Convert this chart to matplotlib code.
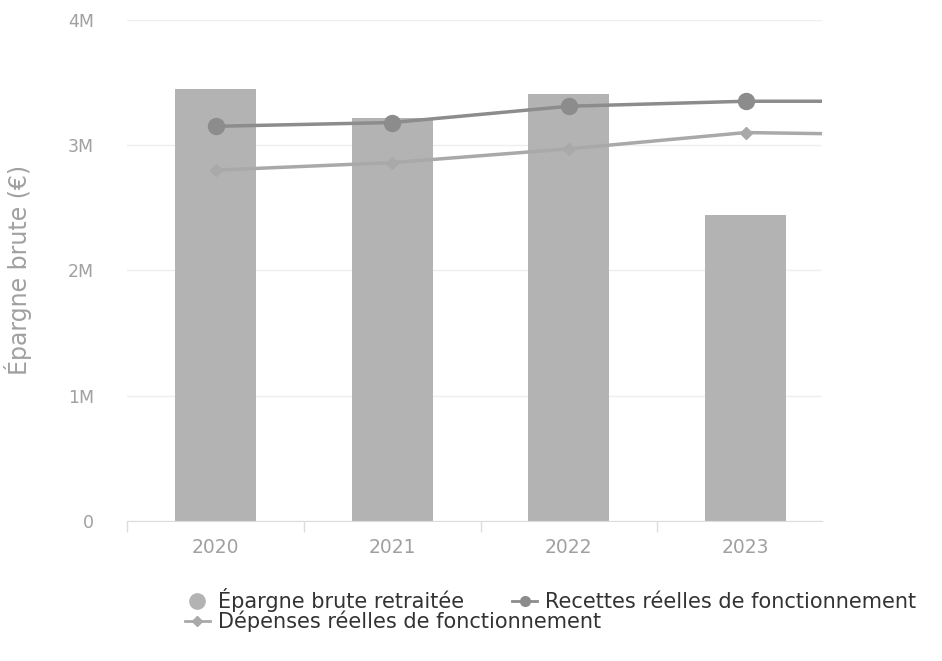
import matplotlib.pyplot as plt
from matplotlib.lines import Line2D
import numpy as np

# values
years = ['2020', '2021', '2022', '2023']
epargne = [3.45e6, 3.22e6, 3.41e6, 2.44e6]
recettes = [3.15e6, 3.18e6, 3.31e6, 3.35e6, 3.35e6]   # last point lies past the plot edge
depenses = [2.80e6, 2.86e6, 2.97e6, 3.10e6, 3.08e6]
y_ticks = [0, 1e6, 2e6, 3e6, 4e6]
y_tick_labels = ['0', '1M', '2M', '3M', '4M']

bar_col = '#b3b3b3'
rec_col = '#8c8c8c'
dep_col = '#a9a9a9'
txt_col = '#a0a0a0'

fig = plt.figure(figsize=(9.42, 6.61), dpi=100)
ax = fig.add_axes([0.135, 0.212, 0.738, 0.758])

x = np.arange(len(years))
xl = np.arange(len(recettes))
ax.bar(x, epargne, width=0.46, color=bar_col, zorder=2)
ax.plot(xl, recettes, color=rec_col, lw=2.5, marker='o', ms=11.5, zorder=3)
ax.plot(xl, depenses, color=dep_col, lw=2.5, marker='D', ms=6.5, zorder=3)

ax.set_xlim(-0.5, 3.435)
ax.set_ylim(0, 4e6)
ax.set_yticks(y_ticks)
ax.set_yticklabels(y_tick_labels)
ax.set_xticks(x)
ax.set_xticklabels(years)
ax.set_xticks(np.arange(-0.5, 3.5, 1.0), minor=True)
ax.tick_params(axis='y', length=0, pad=24, labelsize=12.5, labelcolor=txt_col)
ax.tick_params(axis='x', which='major', length=0, pad=12, labelsize=13.5, labelcolor=txt_col)
ax.tick_params(axis='x', which='minor', length=8, color='#dddddd', width=1)
ax.grid(axis='y', color='#efefef', lw=1, zorder=0)
for s in ['top', 'right', 'left']:
    ax.spines[s].set_visible(False)
ax.spines['bottom'].set_color('#dddddd')
ax.set_ylabel('Épargne brute (€)', color=txt_col, fontsize=17, labelpad=26)

# legend: row one holds two entries, row two holds one
leg_font = {'family': 'DejaVu Sans', 'size': 15}
h_ep = Line2D([], [], ls='none', marker='o', ms=11, color=bar_col)
h_rec = Line2D([], [], color=rec_col, lw=2, marker='o', ms=7)
h_dep = Line2D([], [], color=dep_col, lw=2, marker='D', ms=5)
leg1 = fig.legend([h_ep, h_rec], ['Épargne brute retraitée', 'Recettes réelles de fonctionnement'],
                  ncol=2, loc='upper left', bbox_to_anchor=(0.196, 0.11), frameon=False,
                  handlelength=1.2, handletextpad=0.4, columnspacing=2.3,
                  borderaxespad=0, borderpad=0, prop=leg_font)
leg2 = fig.legend([h_dep], ['Dépenses réelles de fonctionnement'],
                  loc='upper left', bbox_to_anchor=(0.196, 0.076), frameon=False,
                  handlelength=1.2, handletextpad=0.4, borderaxespad=0, borderpad=0,
                  prop=leg_font)
for lg in (leg1, leg2):
    for t in lg.get_texts():
        t.set_color('#333333')

fig.savefig('out.png', dpi=100)
